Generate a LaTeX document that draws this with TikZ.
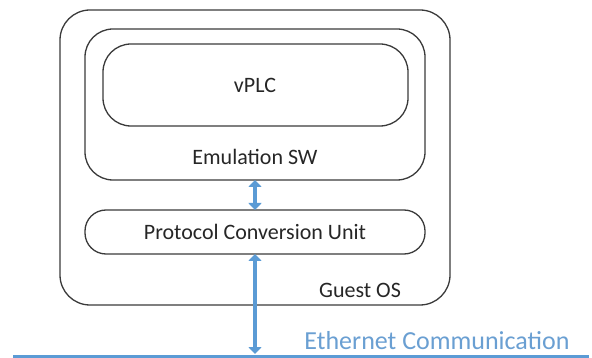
\documentclass[tikz,border=0pt]{standalone}
\usepackage{fontspec}
\setmainfont{Carlito}
\usetikzlibrary{arrows.meta}
\definecolor{boxline}{HTML}{3A3A3A}
\definecolor{linkblue}{HTML}{5B9BD5}
\definecolor{textblue}{HTML}{6A9FD2}
\tikzset{
  roundbox/.style={draw=boxline, line width=1.3pt, rounded corners=#1},
  lbl/.style={font=\fontsize{22}{26}\selectfont, text=black!85, inner sep=0pt},
  link/.style={draw=linkblue, line width=4pt, {Triangle[width=13pt,length=7pt]}-{Triangle[width=13pt,length=7pt]}, shorten <=0pt, shorten >=0pt}
}
\begin{document}
\begin{tikzpicture}[x=1pt,y=-1pt]
\useasboundingbox (0,0) rectangle (592,358);
% outer Guest OS box
\draw[roundbox=30pt] (60,10) rectangle (450,305);
\node[lbl] (guest) at (360,290) {Guest OS};
% emulation SW box
\draw[roundbox=28pt] (85,29) rectangle (425,180);
\coordinate (emuS) at (255,180);
\node[lbl] (emu) at (255,157) {Emulation SW};
% vPLC box
\draw[roundbox=28pt] (103,44) rectangle (408,126);
\node[lbl] (vplc) at (255,85) {vPLC};
% protocol conversion unit
\draw[roundbox=21pt] (85,210) rectangle (425,254);
\coordinate (pcuN) at (255,210);
\coordinate (pcuS) at (255,254);
\node[lbl] (pcu) at (255,232) {Protocol Conversion Unit};
% ethernet bus
\coordinate (busL) at (13,356);
\coordinate (busR) at (589,356);
\draw[draw=linkblue, line width=3pt] (busL) -- (busR);
\coordinate (busT) at (255,354);
\node[font=\fontsize{26}{30}\selectfont, text=textblue, inner sep=0pt] (eth) at (437,341) {Ethernet Communication};
% arrows
\draw[link] (emuS) -- (pcuN);
\draw[link] (pcuS) -- (busT);
\end{tikzpicture}
\end{document}
